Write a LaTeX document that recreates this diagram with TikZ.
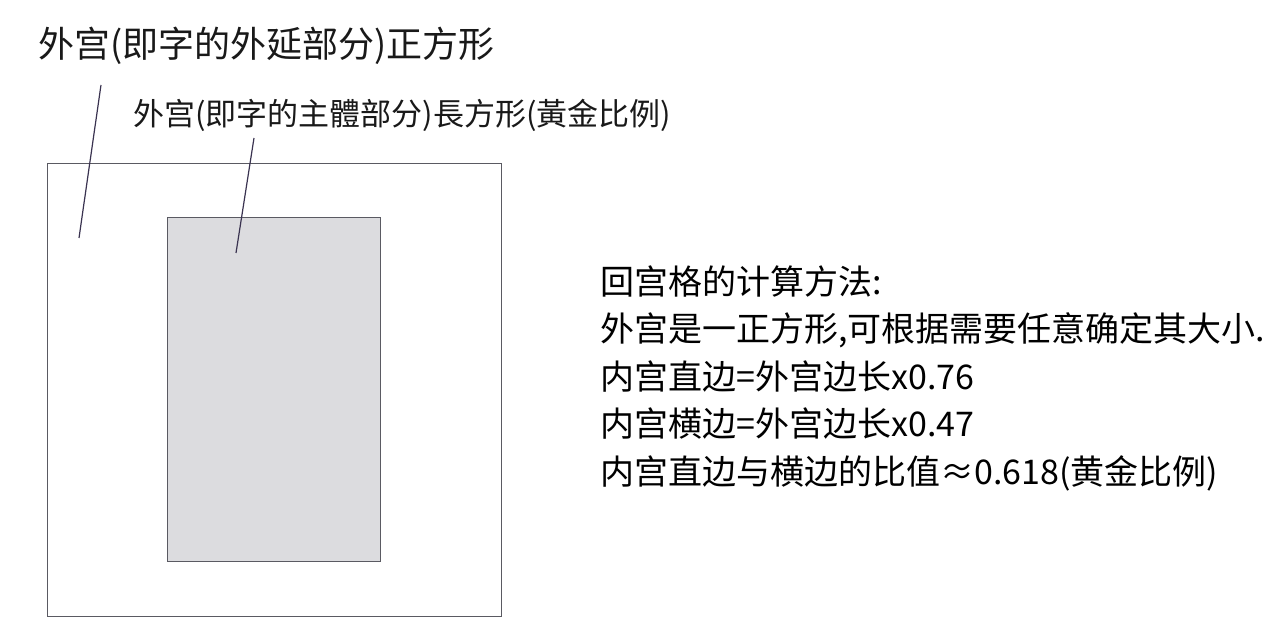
\documentclass[tikz,border=0pt]{standalone}
\usepackage{fontspec}
\newfontfamily\cjk{Noto Sans CJK SC}
\definecolor{leadcol}{HTML}{3A3350}
\definecolor{framecol}{HTML}{5A5A62}
\definecolor{innerfill}{HTML}{DCDCDF}
\tikzset{
  label/.style={inner sep=0pt, anchor=west, text=black!90},
  leader/.style={draw=leadcol, line width=0.6pt},
  palace/.style={draw=framecol, line width=0.5pt}
}
\begin{document}
\begin{tikzpicture}[x=0.5pt, y=-0.5pt]
\useasboundingbox (0,0) rectangle (1282,636);
% outer and inner palace
\draw [palace, fill=white] (47,164) rectangle (501,617);
\draw [palace, fill=innerfill] (167,218) rectangle (380,562);
% labels
\node [label, font=\cjk\fontsize{18}{21}\selectfont] (outerlabel) at (38,46)
  {外宫(即字的外延部分)正方形};
\node [label, font=\cjk\fontsize{15.5}{18}\selectfont] (innerlabel) at (133,115)
  {外宫(即字的主體部分)長方形(黃金比例)};
% leader lines
\coordinate (outertop) at (101,85);
\coordinate (outertip) at (79,238);
\coordinate (innertop) at (254,138);
\coordinate (innertip) at (236,253);
\draw [leader] (outertop) -- (outertip);
\draw [leader] (innertop) -- (innertip);
% calculation
\node [inner sep=0pt, anchor=north west, align=left,
       font=\cjk\fontsize{17}{23.75}\selectfont] (method) at (600,265)
  {回宫格的计算方法:\\
   外宫是一正方形,可根据需要任意确定其大小.\\
   内宫直边=外宫边长x0.76\\
   内宫横边=外宫边长x0.47\\
   内宫直边与横边的比值≈0.618(黄金比例)};
\end{tikzpicture}
\end{document}
